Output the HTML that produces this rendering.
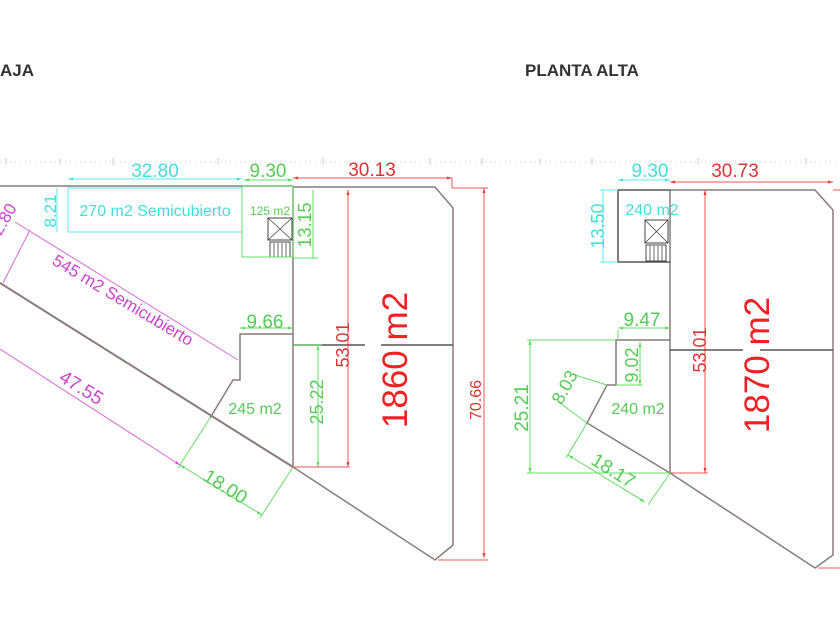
<!DOCTYPE html>
<html><head><meta charset="utf-8"><style>
html,body{margin:0;padding:0;background:#fff;}
svg{display:block;font-family:"Liberation Sans",sans-serif;}
</style></head><body>
<svg width="840" height="630" viewBox="0 0 840 630" xmlns="http://www.w3.org/2000/svg">
<defs>
<marker id="ar" viewBox="0 0 10 10" refX="10" refY="5" markerWidth="7" markerHeight="5" orient="auto-start-reverse"><path d="M0,2 L10,5 L0,8 z" fill="#e33"/></marker>
<marker id="ag" viewBox="0 0 10 10" refX="10" refY="5" markerWidth="7" markerHeight="5" orient="auto-start-reverse"><path d="M0,2 L10,5 L0,8 z" fill="#5d5"/></marker>
<marker id="ac" viewBox="0 0 10 10" refX="10" refY="5" markerWidth="7" markerHeight="5" orient="auto-start-reverse"><path d="M0,2 L10,5 L0,8 z" fill="#4dd"/></marker>
<marker id="am" viewBox="0 0 10 10" refX="10" refY="5" markerWidth="7" markerHeight="5" orient="auto-start-reverse"><path d="M0,2 L10,5 L0,8 z" fill="#d4d"/></marker>
</defs>
<rect width="840" height="630" fill="#fff"/>
<text x="0" y="76" font-size="17" font-weight="bold" fill="#333">AJA</text>
<text x="525" y="76" font-size="17" font-weight="bold" fill="#333">PLANTA ALTA</text>
<g stroke="#ccc" stroke-width="1">
<line x1="0" y1="162" x2="840" y2="162" stroke-dasharray="1 4"/>
<line x1="6" y1="158" x2="6" y2="165"/><line x1="60" y1="158" x2="60" y2="165"/><line x1="113" y1="158" x2="113" y2="165"/><line x1="218" y1="158" x2="218" y2="165"/><line x1="323" y1="158" x2="323" y2="165"/><line x1="430" y1="158" x2="430" y2="165"/><line x1="482" y1="158" x2="482" y2="165"/>
<line x1="540" y1="158" x2="540" y2="165"/><line x1="592" y1="158" x2="592" y2="165"/><line x1="698" y1="158" x2="698" y2="165"/><line x1="806" y1="158" x2="806" y2="165"/>
</g>

<!-- LEFT PLAN -->
<g fill="none" stroke="#8a7a7a" stroke-width="1.5">
<line x1="0" y1="186" x2="293" y2="186"/>
<polyline points="293,187 435,187 453,208 453,545 435,560 293,467 293,187"/>
<line x1="0" y1="283" x2="293" y2="467" stroke-width="2"/>
<polyline points="293,334 240,334 240,380 233,380 210,418"/>
<line x1="293" y1="345" x2="365" y2="345" stroke="#555"/>
<line x1="381" y1="345" x2="453" y2="345" stroke="#555"/>
<rect x="268" y="218" width="24" height="22" stroke="#444" stroke-width="1"/>
<line x1="268" y1="218" x2="292" y2="240" stroke="#444" stroke-width="0.8"/>
<line x1="292" y1="218" x2="268" y2="240" stroke="#444" stroke-width="0.8"/>
<rect x="270" y="242" width="20" height="15" stroke="#444" stroke-width="1"/>
</g>
<g stroke="#444" stroke-width="0.8"><line x1="274" y1="243" x2="274" y2="257"/><line x1="278" y1="243" x2="278" y2="257"/><line x1="282" y1="243" x2="282" y2="257"/><line x1="286" y1="243" x2="286" y2="257"/></g>
<g stroke="#5ee" fill="none" stroke-width="1">
<rect x="68" y="188" width="174" height="44"/>
<line x1="68" y1="179" x2="242" y2="179" marker-start="url(#ac)" marker-end="url(#ac)"/>
<line x1="57" y1="188" x2="57" y2="232"/>
</g>
<text x="155" y="216" font-size="16" fill="#4dd" text-anchor="middle">270 m2 Semicubierto</text>
<text x="155" y="177" font-size="19" fill="#4dd" text-anchor="middle">32.80</text>
<text transform="translate(56,211) rotate(-90)" font-size="17" fill="#4dd" text-anchor="middle">8.21</text>
<g stroke="#6d6" fill="none" stroke-width="1">
<rect x="242" y="186" width="51" height="71"/>
<line x1="244" y1="180" x2="293" y2="180" marker-start="url(#ag)" marker-end="url(#ag)"/>
<line x1="313" y1="190" x2="313" y2="258"/>
<line x1="293" y1="258" x2="318" y2="258"/>
<line x1="240" y1="328" x2="293" y2="328" marker-start="url(#ag)" marker-end="url(#ag)"/>
<line x1="318" y1="345" x2="318" y2="467" marker-start="url(#ag)" marker-end="url(#ag)"/>
<line x1="293" y1="345" x2="322" y2="345"/>
<line x1="180" y1="465" x2="262" y2="515" marker-start="url(#ag)" marker-end="url(#ag)"/>
<line x1="210" y1="418" x2="178" y2="468"/>
<line x1="293" y1="467" x2="260" y2="518"/>
</g>
<text x="270" y="215" font-size="12" fill="#5c5" text-anchor="middle">125 m2</text>
<text x="268" y="177" font-size="19" fill="#5c5" text-anchor="middle">9.30</text>
<text transform="translate(311,225) rotate(-90)" font-size="18" fill="#5c5" text-anchor="middle">13.15</text>
<text x="265" y="328" font-size="19" fill="#5c5" text-anchor="middle">9.66</text>
<text x="255" y="414" font-size="16" fill="#5c5" text-anchor="middle">245 m2</text>
<text transform="translate(323,402) rotate(-90)" font-size="18" fill="#5c5" text-anchor="middle">25.22</text>
<text transform="translate(222,492) rotate(32)" font-size="19" fill="#5c5" text-anchor="middle">18.00</text>
<g stroke="#d6d" fill="none" stroke-width="1">
<line x1="15" y1="222" x2="238" y2="360"/>
<line x1="30" y1="230" x2="3" y2="283"/>
<line x1="0" y1="349" x2="180" y2="465" marker-end="url(#am)"/>
</g>
<text transform="translate(120,305) rotate(31)" font-size="17" fill="#c4c" text-anchor="middle">545 m2 Semicubierto</text>
<text transform="translate(78,393) rotate(32)" font-size="19" fill="#c4c" text-anchor="middle">47.55</text>
<text transform="translate(9,222) rotate(-60)" font-size="17" fill="#c4c" text-anchor="middle">2.80</text>
<g stroke="#e55" fill="none" stroke-width="1">
<line x1="293" y1="178" x2="452" y2="178" marker-start="url(#ar)" marker-end="url(#ar)"/>
<line x1="452" y1="178" x2="452" y2="188"/>
<line x1="348" y1="190" x2="348" y2="467" marker-start="url(#ar)" marker-end="url(#ar)"/>
<line x1="293" y1="467" x2="350" y2="467"/>
<line x1="484" y1="188" x2="484" y2="558" marker-start="url(#ar)" marker-end="url(#ar)"/>
<line x1="452" y1="188" x2="488" y2="188"/>
<line x1="438" y1="560" x2="488" y2="560"/>
</g>
<text x="372" y="176" font-size="19" fill="#d33" text-anchor="middle">30.13</text>
<text transform="translate(349,345) rotate(-90)" font-size="18" fill="#d33" text-anchor="middle">53.01</text>
<text transform="translate(481,400) rotate(-90)" font-size="16" fill="#d33" text-anchor="middle">70.66</text>
<text transform="translate(407,360) rotate(-90)" font-size="35" fill="#e22" text-anchor="middle">1860 m2</text>

<!-- RIGHT PLAN -->
<g fill="none" stroke="#8a7a7a" stroke-width="1.5">
<polyline points="670,190 815,190 833,210 833,555 815,568 670,473 670,190"/>
<polyline points="670,340 616,340 616,385 607,385 587,423 670,473"/>
<polyline points="670,190 618,190 618,262 670,262" stroke="#555"/>
<line x1="670" y1="350" x2="743" y2="350" stroke="#555"/>
<line x1="760" y1="350" x2="833" y2="350" stroke="#555"/>
<rect x="645" y="220" width="23" height="23" stroke="#444" stroke-width="1"/>
<line x1="645" y1="220" x2="668" y2="243" stroke="#444" stroke-width="0.8"/>
<line x1="668" y1="220" x2="645" y2="243" stroke="#444" stroke-width="0.8"/>
<rect x="646" y="245" width="20" height="16" stroke="#444" stroke-width="1"/>
</g>
<g stroke="#444" stroke-width="0.8"><line x1="650" y1="246" x2="650" y2="261"/><line x1="654" y1="246" x2="654" y2="261"/><line x1="658" y1="246" x2="658" y2="261"/><line x1="662" y1="246" x2="662" y2="261"/></g>
<g stroke="#5ee" fill="none" stroke-width="1">
<line x1="618" y1="180" x2="670" y2="180" marker-start="url(#ac)" marker-end="url(#ac)"/>
<line x1="603" y1="190" x2="603" y2="262"/>
<line x1="600" y1="190" x2="618" y2="190"/>
<line x1="600" y1="262" x2="618" y2="262"/>
</g>
<text x="650" y="177" font-size="19" fill="#4dd" text-anchor="middle">9.30</text>
<text x="652" y="215" font-size="16" fill="#4dd" text-anchor="middle">240 m2</text>
<text transform="translate(604,226) rotate(-90)" font-size="18" fill="#4dd" text-anchor="middle">13.50</text>
<g stroke="#6d6" fill="none" stroke-width="1">
<line x1="618" y1="328" x2="670" y2="328" marker-start="url(#ag)" marker-end="url(#ag)"/>
<line x1="618" y1="330" x2="618" y2="340"/>
<line x1="640" y1="342" x2="640" y2="385" marker-start="url(#ag)" marker-end="url(#ag)"/>
<line x1="616" y1="385" x2="643" y2="385"/>
<line x1="530" y1="340" x2="530" y2="473" marker-start="url(#ag)" marker-end="url(#ag)"/>
<line x1="527" y1="340" x2="616" y2="340"/>
<line x1="527" y1="473" x2="670" y2="473"/>
<line x1="568" y1="455" x2="645" y2="502" marker-start="url(#ag)" marker-end="url(#ag)"/>
<line x1="587" y1="423" x2="566" y2="458"/>
<line x1="670" y1="473" x2="648" y2="505"/>
<line x1="575" y1="375" x2="607" y2="385"/>
<line x1="560" y1="403" x2="587" y2="423"/>
</g>
<text x="642" y="326" font-size="19" fill="#5c5" text-anchor="middle">9.47</text>
<text transform="translate(638,365) rotate(-90)" font-size="18" fill="#5c5" text-anchor="middle">9.02</text>
<text transform="translate(570,390) rotate(-62)" font-size="18" fill="#5c5" text-anchor="middle">8.03</text>
<text x="638" y="414" font-size="16" fill="#5c5" text-anchor="middle">240 m2</text>
<text transform="translate(528,408) rotate(-90)" font-size="19" fill="#5c5" text-anchor="middle">25.21</text>
<text transform="translate(610,476) rotate(32)" font-size="19" fill="#5c5" text-anchor="middle">18.17</text>
<g stroke="#e55" fill="none" stroke-width="1">
<line x1="670" y1="182" x2="833" y2="182" marker-start="url(#ar)" marker-end="url(#ar)"/>
<line x1="705" y1="190" x2="705" y2="473" marker-start="url(#ar)" marker-end="url(#ar)"/>
<line x1="670" y1="473" x2="708" y2="473"/>
<line x1="833" y1="190" x2="840" y2="190"/>
<line x1="818" y1="568" x2="840" y2="568"/>
</g>
<text x="735" y="177" font-size="19" fill="#d33" text-anchor="middle">30.73</text>
<text transform="translate(706,350) rotate(-90)" font-size="18" fill="#d33" text-anchor="middle">53.01</text>
<text transform="translate(769,365) rotate(-90)" font-size="35" fill="#e22" text-anchor="middle">1870 m2</text>
</svg>
</body></html>
